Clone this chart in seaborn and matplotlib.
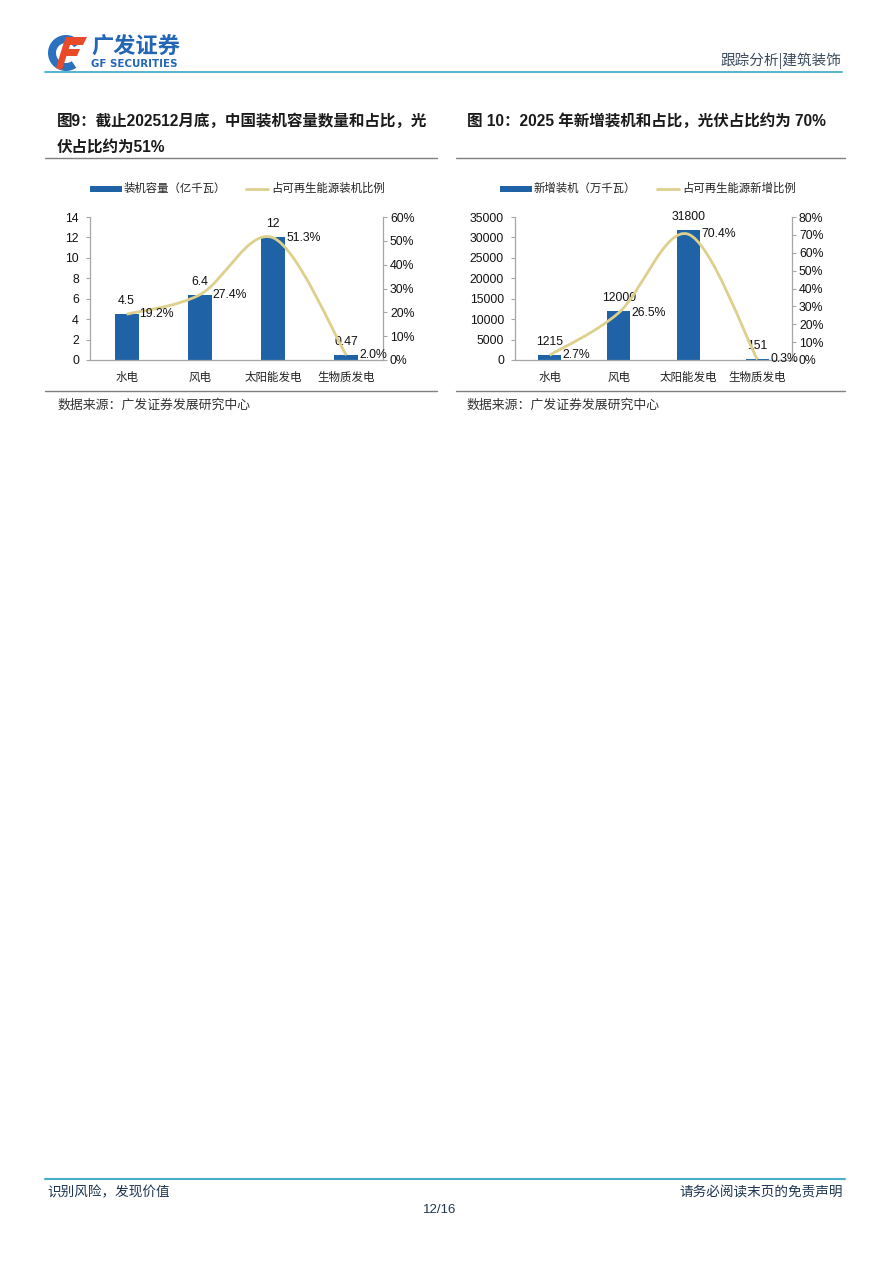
import numpy as np
import pandas as pd
import seaborn as sns
import matplotlib.pyplot as plt
from matplotlib.path import Path
from matplotlib.patches import PathPatch, Rectangle, Wedge, Polygon
from matplotlib.lines import Line2D
from matplotlib.ticker import FuncFormatter

# ==================== 数据 ====================
categories = ["水电", "风电", "太阳能发电", "生物质发电"]

# 图9: 装机容量（亿千瓦）与占比
cap_values = [4.5, 6.4, 12, 0.47]
cap_labels = ["4.5", "6.4", "12", "0.47"]
cap_share = [19.2, 27.4, 51.3, 2.0]

# 图10: 新增装机（万千瓦）与占比
new_values = [1215, 12000, 31800, 151]
new_labels = ["1215", "12000", "31800", "151"]
new_share = [2.7, 26.5, 70.4, 0.3]

BAR_BLUE = "#1f63a6"
LINE_YEL = "#dcd08c"
AXIS_GRAY = "#a6a6a6"
TEAL = "#46aec8"
NUM_SIZE = 8.8

sns.set_theme(style="white")
plt.rcParams['font.family'] = ['Liberation Sans', 'Noto Sans CJK SC']
plt.rcParams['axes.unicode_minus'] = False

W, H = 892, 1262
fig = plt.figure(figsize=(W / 100, H / 100), dpi=100)
fig.patch.set_facecolor("white")

# 整页装饰层，像素坐标
deco = fig.add_axes([0, 0, 1, 1], zorder=-1)
deco.set_xlim(0, W)
deco.set_ylim(H, 0)
deco.axis("off")


def smooth_path(xs, ys):
    """类似 Excel 平滑线的贝塞尔路径"""
    pts = np.column_stack([xs, ys]).astype(float)
    n = len(pts)
    verts = [pts[0]]
    codes = [Path.MOVETO]
    for i in range(n - 1):
        p0 = pts[i - 1] if i > 0 else pts[i]
        p1 = pts[i]
        p2 = pts[i + 1]
        p3 = pts[i + 2] if i + 2 < n else pts[i + 1]
        c1 = p1 + (p2 - p0) / 6.0
        c2 = p2 - (p3 - p1) / 6.0
        verts += [c1, c2, p2]
        codes += [Path.CURVE4] * 3
    return Path(verts, codes)


def draw_combo(rect, values, labels, share, ymax, ystep, pmax, pstep):
    ax = fig.add_axes(rect)
    df = pd.DataFrame({"cat": categories, "val": values})
    sns.barplot(data=df, x="cat", y="val", ax=ax, color=BAR_BLUE,
                width=0.33, saturation=1, edgecolor="none")
    ax.set_xlim(-0.5, 3.5)
    ax.set_ylim(0, ymax)
    ax.set_yticks(np.arange(0, ymax + ystep / 2, ystep))
    ax.set_xlabel("")
    ax.set_ylabel("")
    for s in ["top", "right"]:
        ax.spines[s].set_visible(False)
    for s in ["left", "bottom"]:
        ax.spines[s].set_color(AXIS_GRAY)
        ax.spines[s].set_linewidth(0.9)
    ax.tick_params(axis="y", direction="out", length=3, width=0.8,
                   color=AXIS_GRAY, pad=5, labelsize=NUM_SIZE, labelcolor="#111111")
    ax.tick_params(axis="x", length=0, pad=8, labelsize=8.3, labelcolor="#222222")
    for t in ax.get_xticklabels():
        t.set_fontfamily(['Noto Sans CJK SC'])

    for i, (v, lab) in enumerate(zip(values, labels)):
        ax.annotate(lab, (i, v), xytext=(0, 13), textcoords="offset pixels",
                    ha="center", va="center", fontsize=NUM_SIZE, color="#111111")

    ax2 = ax.twinx()
    ax2.set_ylim(0, pmax)
    ax2.set_yticks(np.arange(0, pmax + pstep / 2, pstep))
    ax2.yaxis.set_major_formatter(FuncFormatter(lambda v, p: f"{v:.0f}%"))
    for s in ["top", "left", "bottom"]:
        ax2.spines[s].set_visible(False)
    ax2.spines["right"].set_color(AXIS_GRAY)
    ax2.spines["right"].set_linewidth(0.9)
    ax2.tick_params(axis="y", direction="out", length=3, width=0.8,
                    color=AXIS_GRAY, pad=2, labelsize=NUM_SIZE, labelcolor="#111111")
    ax2.grid(False)
    ax.grid(False)

    path = smooth_path(np.arange(len(share)), share)
    ax2.add_patch(PathPatch(path, facecolor="none", edgecolor=LINE_YEL,
                            lw=2.0, clip_on=False, zorder=3))
    for i, p in enumerate(share):
        ax2.annotate(f"{p:.1f}%", (i, p), xytext=(13, 0), textcoords="offset pixels",
                     ha="left", va="center", fontsize=NUM_SIZE, color="#111111", zorder=4)
    return ax, ax2


# ==================== 图表 ====================
draw_combo([90 / W, 1 - 360 / H, 293 / W, 143 / H],
           cap_values, cap_labels, cap_share, 14, 2, 60, 10)
draw_combo([515 / W, 1 - 360 / H, 277 / W, 143 / H],
           new_values, new_labels, new_share, 35000, 5000, 80, 10)

# 图例
legend_items = [
    (90, 278, "装机容量（亿千瓦）", "占可再生能源装机比例"),
    (500, 689, "新增装机（万千瓦）", "占可再生能源新增比例"),
]
for bx, lx, bar_txt, line_txt in legend_items:
    deco.add_patch(Rectangle((bx, 185.5), 32, 6, color=BAR_BLUE, lw=0))
    deco.text(bx + 34, 188.5, bar_txt, fontsize=8.2, va="center", ha="left",
              family=['Noto Sans CJK SC'], color="#222222")
    deco.add_line(Line2D([lx - 32, lx - 10], [188.5, 188.5], color=LINE_YEL, lw=2))
    deco.text(lx - 7, 188.5, line_txt, fontsize=8.2, va="center", ha="left",
              family=['Noto Sans CJK SC'], color="#222222")

# 标题
title_kw = dict(fontsize=11.2, fontweight="bold", color="#1a1a1a", va="center", ha="left")
deco.text(57, 121, "图9：截止202512月底，中国装机容量数量和占比，光", **title_kw)
deco.text(57, 147, "伏占比约为51%", **title_kw)
deco.text(467, 121, "图 10：2025 年新增装机和占比，光伏占比约为 70%", **title_kw)
for x0, x1 in [(45, 437), (456, 845)]:
    deco.add_line(Line2D([x0, x1], [158, 158], color="#7f7f7f", lw=1))
    deco.add_line(Line2D([x0, x1], [391, 391], color="#7f7f7f", lw=1))

# 数据来源
for x0 in [57, 466]:
    deco.text(x0, 405, "数据来源：广发证券发展研究中心", fontsize=9.3,
              va="center", ha="left", color="#333333", family=['Noto Sans CJK SC'])

# 页眉
deco.add_patch(Wedge((66, 53), 18, 55, 325, width=8, color="#2a72c0", lw=0))
deco.add_patch(Polygon([[66, 37], [87, 37], [83, 45], [63, 45]], color="#e84a2a", lw=0))
deco.add_patch(Polygon([[63, 49], [80, 49], [77, 56], [61, 56]], color="#e84a2a", lw=0))
deco.add_patch(Polygon([[63, 45], [70, 45], [62, 70], [56, 68]], color="#e84a2a", lw=0))
deco.text(91, 47, "广发证券", fontsize=16, fontweight="bold", color="#2366b5",
          va="center", ha="left", family=['Noto Sans CJK SC'])
deco.text(91, 64, "GF SECURITIES", fontsize=7.4, fontweight="bold", color="#2366b5",
          va="center", ha="left", family=['DejaVu Sans'])
deco.add_line(Line2D([45, 842], [72, 72], color=TEAL, lw=1.3))
deco.text(841, 61, "跟踪分析|建筑装饰", fontsize=10.5, color="#3b4a5c",
          va="center", ha="right", family=['Noto Sans CJK SC'])

# 页脚
deco.add_line(Line2D([45, 845], [1179, 1179], color=TEAL, lw=1.5))
deco.text(47, 1192, "识别风险，发现价值", fontsize=9.8, color="#1f3550",
          va="center", ha="left", family=['Noto Sans CJK SC'])
deco.text(843, 1192, "请务必阅读末页的免责声明", fontsize=9.8, color="#1f3550",
          va="center", ha="right", family=['Noto Sans CJK SC'])
deco.text(440, 1210, "12/16", fontsize=9.5, color="#1f3550", va="center", ha="center")

plt.savefig("out.png", dpi=100, facecolor="white")
